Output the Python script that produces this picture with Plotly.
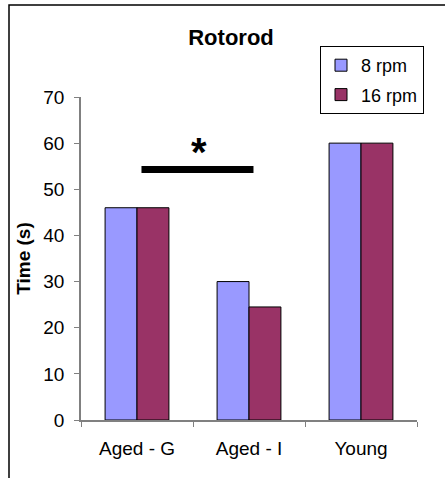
import plotly.graph_objects as go

categories = ["Aged - G", "Aged - I", "Young"]
rpm8 = [46, 30, 60]
rpm16 = [46, 24.5, 60]
series_names = ["8 rpm", "16 rpm"]
y_ticks = [0, 10, 20, 30, 40, 50, 60, 70]

# significance marker between Aged - G and Aged - I
sig_from, sig_to, sig_y = 0.04, 1.04, 54.3
star_x, star_y = 0.55, 58.0

W, H = 445, 478
L, R, T, B = 81, 417, 97, 420

fig = go.Figure()
fig.add_trace(go.Bar(x=categories, y=rpm8, name=series_names[0], legendgroup="a",
                     marker=dict(color="#9999FF", line=dict(color="black", width=1))))
fig.add_trace(go.Bar(x=categories, y=rpm16, name=series_names[1], legendgroup="b",
                     marker=dict(color="#993366", line=dict(color="black", width=1))))

font = "Liberation Sans, Arial, sans-serif"

fig.update_layout(
    width=W, height=H,
    margin=dict(l=L, r=W - R, t=T, b=H - B, pad=0, autoexpand=False),
    paper_bgcolor="white", plot_bgcolor="white",
    font=dict(family=font, size=19, color="black"),
    barmode="group", bargap=0.43, bargroupgap=0,
    title=dict(text="<b>Rotorod</b>", x=231 / W, xref="container", xanchor="center",
               y=1 - 37 / H, yref="container", yanchor="middle",
               font=dict(size=22, family=font, color="black")),
    legend=dict(x=(320 - L) / (R - L), xanchor="left", y=1 + (T - 46) / (B - T), yanchor="top",
                bordercolor="black", borderwidth=1, bgcolor="white",
                font=dict(size=18, family=font), traceorder="grouped", tracegroupgap=3,
                itemwidth=30),
    showlegend=True,
)

fig.update_xaxes(type="category", showline=True, linecolor="#808080", linewidth=1.5,
                 ticks="outside", tickson="boundaries", ticklen=5, tickcolor="#808080",
                 tickwidth=1, showgrid=False, ticklabelstandoff=10, automargin=False,
                 tickfont=dict(size=19, family=font))
fig.update_yaxes(range=[0, 70], tickvals=y_ticks, showline=True, linecolor="#808080",
                 linewidth=1.5, ticks="outside", ticklen=5, tickcolor="#808080",
                 tickwidth=1, showgrid=False, zeroline=False, ticklabelstandoff=6,
                 automargin=False, tickfont=dict(size=19, family=font),
                 title=dict(text="<b>Time (s)</b>", standoff=8,
                            font=dict(size=19, family=font)))

# significance bar and star
fig.add_shape(type="line", xref="x", yref="y", x0=sig_from, x1=sig_to, y0=sig_y, y1=sig_y,
              line=dict(color="black", width=7))
fig.add_annotation(x=star_x, y=star_y, xref="x", yref="y", text="<b>*</b>", showarrow=False,
                   font=dict(size=40, family=font, color="black"), yanchor="middle")

# outer chart border (cropped at right and bottom in the reference)
fig.add_shape(type="rect", xref="paper", yref="paper",
              x0=(9 - L) / (R - L), x1=(460 - L) / (R - L),
              y0=-(500 - B) / (B - T), y1=1 + (T - 5) / (B - T),
              line=dict(color="black", width=1.5), fillcolor="rgba(0,0,0,0)", layer="below")

fig.write_html("out.html", config={"displayModeBar": False},
               post_script="document.body.style.margin='0';document.body.style.padding='0';")
